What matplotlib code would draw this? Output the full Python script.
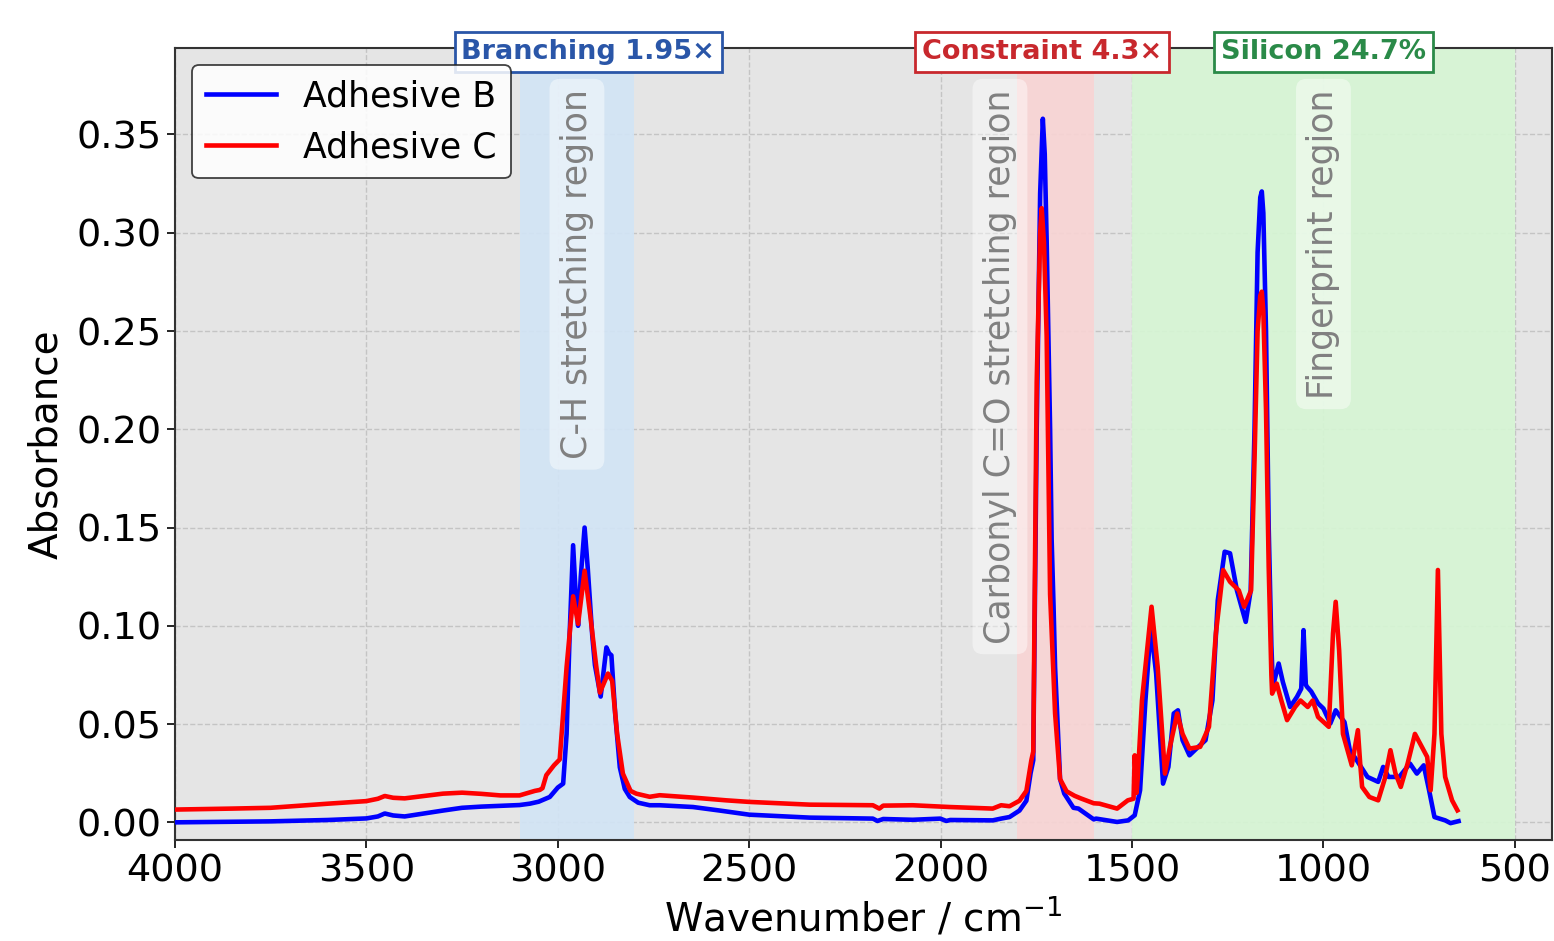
import numpy as np
import matplotlib
matplotlib.use("Agg")
import matplotlib.pyplot as plt

# spectra (wavenumber cm-1, absorbance)
wn_b = [4000, 3850, 3750, 3600, 3500, 3470, 3452, 3430, 3400, 3350, 3300, 3250, 3200, 3100, 3073,
        3050, 3021, 3000, 2986, 2977, 2969, 2960, 2953, 2947, 2940, 2930, 2922, 2910, 2903, 2888,
        2873, 2866, 2860, 2850, 2838, 2825, 2812, 2790, 2760, 2734, 2647, 2577, 2500, 2342, 2177,
        2165, 2150, 2073, 2001, 1985, 1975, 1864, 1842, 1820, 1794, 1776, 1765, 1758, 1749, 1740,
        1733, 1728, 1723, 1714, 1710, 1705, 1701, 1688, 1677, 1653, 1640, 1600, 1594, 1539, 1510,
        1493, 1479, 1465, 1451, 1437, 1419, 1405, 1391, 1380, 1368, 1350, 1327, 1308, 1290, 1276,
        1258, 1244, 1226, 1203, 1190, 1180, 1172, 1165, 1161, 1157, 1150, 1143, 1136, 1132, 1117,
        1106, 1087, 1069, 1058, 1052, 1046, 1043, 1032, 1014, 1000, 982, 968, 945, 931, 913,
        885, 857, 844, 830, 802, 774, 756, 738, 724, 710, 682, 668, 647]
abs_b = [0.000, 0.0003, 0.0005, 0.0012, 0.002, 0.003, 0.0045, 0.0035, 0.003, 0.0045, 0.006, 0.0074, 0.008, 0.0088, 0.0095,
         0.0105, 0.0129, 0.0177, 0.0197, 0.045, 0.096, 0.141, 0.115, 0.100, 0.125, 0.150, 0.130, 0.095, 0.080, 0.064,
         0.089, 0.086, 0.085, 0.055, 0.028, 0.017, 0.0129, 0.010, 0.0087, 0.0087, 0.0078, 0.006, 0.0039, 0.0024, 0.0019,
         0.0007, 0.0017, 0.0013, 0.0019, 0.0007, 0.0012, 0.001, 0.0019, 0.0027, 0.006, 0.011, 0.025, 0.0316, 0.20, 0.32,
         0.358, 0.34, 0.296, 0.20, 0.144, 0.11, 0.079, 0.022, 0.0146, 0.0074, 0.007, 0.0015, 0.0019, 0.0002, 0.001,
         0.0036, 0.0163, 0.062, 0.0995, 0.0757, 0.0197, 0.0282, 0.0554, 0.057, 0.0418, 0.0341, 0.0384, 0.0418, 0.062, 0.113,
         0.1377, 0.1369, 0.118, 0.102, 0.118, 0.20, 0.29, 0.318, 0.321, 0.31, 0.25, 0.15, 0.09, 0.069, 0.0808,
         0.0714, 0.0587, 0.0639, 0.068, 0.0978, 0.07, 0.069, 0.0666, 0.0605, 0.0579, 0.0503, 0.057, 0.051, 0.0367, 0.0316,
         0.0231, 0.0206, 0.0282, 0.0231, 0.0231, 0.0299, 0.0248, 0.029, 0.0163, 0.0027, 0.001, -0.0004, 0.0006]

wn_c = [4000, 3850, 3750, 3600, 3500, 3470, 3452, 3430, 3400, 3300, 3250, 3200, 3150, 3100, 3060,
        3047, 3040, 3030, 3010, 2995, 2977, 2960, 2947, 2930, 2915, 2900, 2890, 2869, 2858, 2845,
        2830, 2810, 2795, 2760, 2734, 2647, 2560, 2500, 2342, 2177, 2160, 2150, 2073, 1977, 1864,
        1842, 1820, 1794, 1776, 1763, 1758, 1749, 1740, 1736, 1730, 1723, 1714, 1701, 1688, 1677,
        1671, 1650, 1634, 1600, 1585, 1539, 1511, 1496, 1493, 1488, 1485, 1474, 1449, 1433, 1414,
        1401, 1382, 1368, 1350, 1322, 1299, 1281, 1262, 1244, 1221, 1207, 1189, 1180, 1172, 1165,
        1161, 1157, 1150, 1143, 1136, 1134, 1122, 1110, 1095, 1074, 1060, 1041, 1028, 1014, 986,
        975, 968, 959, 949, 926, 918, 910, 904, 899, 880, 857, 840, 825, 812, 798,
        780, 761, 743, 729, 720, 710, 701, 692, 682, 664, 650]
abs_c = [0.0065, 0.007, 0.0074, 0.0095, 0.0108, 0.012, 0.0134, 0.0125, 0.0122, 0.0146, 0.0151, 0.0145, 0.0137, 0.0137, 0.016,
         0.0165, 0.0174, 0.024, 0.029, 0.032, 0.079, 0.115, 0.101, 0.128, 0.105, 0.080, 0.066, 0.0757, 0.072, 0.045,
         0.0248, 0.016, 0.0146, 0.013, 0.0138, 0.0126, 0.0112, 0.0104, 0.009, 0.0087, 0.007, 0.0085, 0.0087, 0.0078, 0.007,
         0.0087, 0.0082, 0.011, 0.016, 0.0316, 0.036, 0.224, 0.30, 0.3125, 0.295, 0.2475, 0.116, 0.0555, 0.022, 0.018,
         0.0158, 0.0135, 0.0122, 0.0097, 0.0095, 0.007, 0.0112, 0.012, 0.0341, 0.015, 0.023, 0.062, 0.1097, 0.0791, 0.0248,
         0.0384, 0.0554, 0.045, 0.0375, 0.0384, 0.0486, 0.0961, 0.1284, 0.1224, 0.118, 0.1097, 0.118, 0.185, 0.25, 0.268,
         0.27, 0.26, 0.21, 0.13, 0.075, 0.0655, 0.0706, 0.062, 0.052, 0.0587, 0.062, 0.0587, 0.062, 0.0536, 0.0486,
         0.0961, 0.1122, 0.0875, 0.045, 0.029, 0.038, 0.0469, 0.03, 0.018, 0.0129, 0.0112, 0.022, 0.0367, 0.025, 0.018,
         0.03, 0.045, 0.0384, 0.0333, 0.0163, 0.045, 0.1284, 0.045, 0.0231, 0.0112, 0.0061]

# highlighted regions
regions = [(3100, 2800), (1800, 1600), (1500, 500)]
region_colors = ['#d2e4f5', '#f8d4d4', '#d6f5d4']
region_texts = ['C-H stretching region', 'Carbonyl C=O stretching region', 'Fingerprint region']
region_text_x = [2950, 1845, 1000]

# annotation boxes on top spine
box_labels = ['Branching 1.95×', 'Constraint 4.3×', 'Silicon 24.7%']
box_x = [2920, 1735, 1000]
box_colors = ['#2a56a8', '#c8282d', '#2a8a48']

fig = plt.figure(figsize=(15.54, 9.41), dpi=100)
ax = fig.add_axes([0.1126, 0.1073, 0.8861, 0.8417])
ax.set_facecolor('#e5e5e5')
ax.set_axisbelow(True)
ax.grid(True, linestyle='--', color='#c4c4c4', linewidth=1.0)

for (lo, hi), c in zip(regions, region_colors):
    ax.axvspan(lo, hi, color=c, alpha=0.92, lw=0, zorder=1)

ax.plot(wn_b, abs_b, color='blue', lw=3.3, label='Adhesive B', zorder=3)
ax.plot(wn_c, abs_c, color='red', lw=3.3, label='Adhesive C', zorder=3)

for t, xx in zip(region_texts, region_text_x):
    ax.text(xx, 0.373, t, rotation=90, ha='center', va='top', fontsize=25,
            color='#808080', zorder=2,
            bbox=dict(boxstyle='round,pad=0.3', fc='white', ec='none', alpha=0.45))

for t, xx, c in zip(box_labels, box_x, box_colors):
    ax.text(xx, 0.995, t, transform=ax.get_xaxis_transform(), ha='center', va='center',
            fontsize=19.5, fontweight='bold', color=c, zorder=5, clip_on=False,
            bbox=dict(boxstyle='square,pad=0.25', fc='white', ec=c, lw=2))

ax.set_xlim(4000, 403)
ax.set_ylim(-0.009, 0.394)
ax.set_xticks([4000, 3500, 3000, 2500, 2000, 1500, 1000, 500])
ax.set_yticks(np.arange(0, 0.36, 0.05))
ax.yaxis.set_major_formatter(matplotlib.ticker.FormatStrFormatter('%.2f'))
ax.tick_params(labelsize=27.5, length=6, width=1.2)
for s in ax.spines.values():
    s.set_color('#333333')
    s.set_linewidth(1.5)

ax.set_xlabel('Wavenumber / cm$^{-1}$', fontsize=28, labelpad=5)
ax.set_ylabel('Absorbance', fontsize=28, labelpad=8)

leg = ax.legend(loc='upper left', fontsize=25, frameon=True, fancybox=True,
                edgecolor='#222222', facecolor='white', framealpha=0.85,
                handlelength=2.0, borderpad=0.4, bbox_to_anchor=(0.0, 1.0))
leg.get_frame().set_linewidth(1.3)

fig.savefig('out.png', dpi=100)
